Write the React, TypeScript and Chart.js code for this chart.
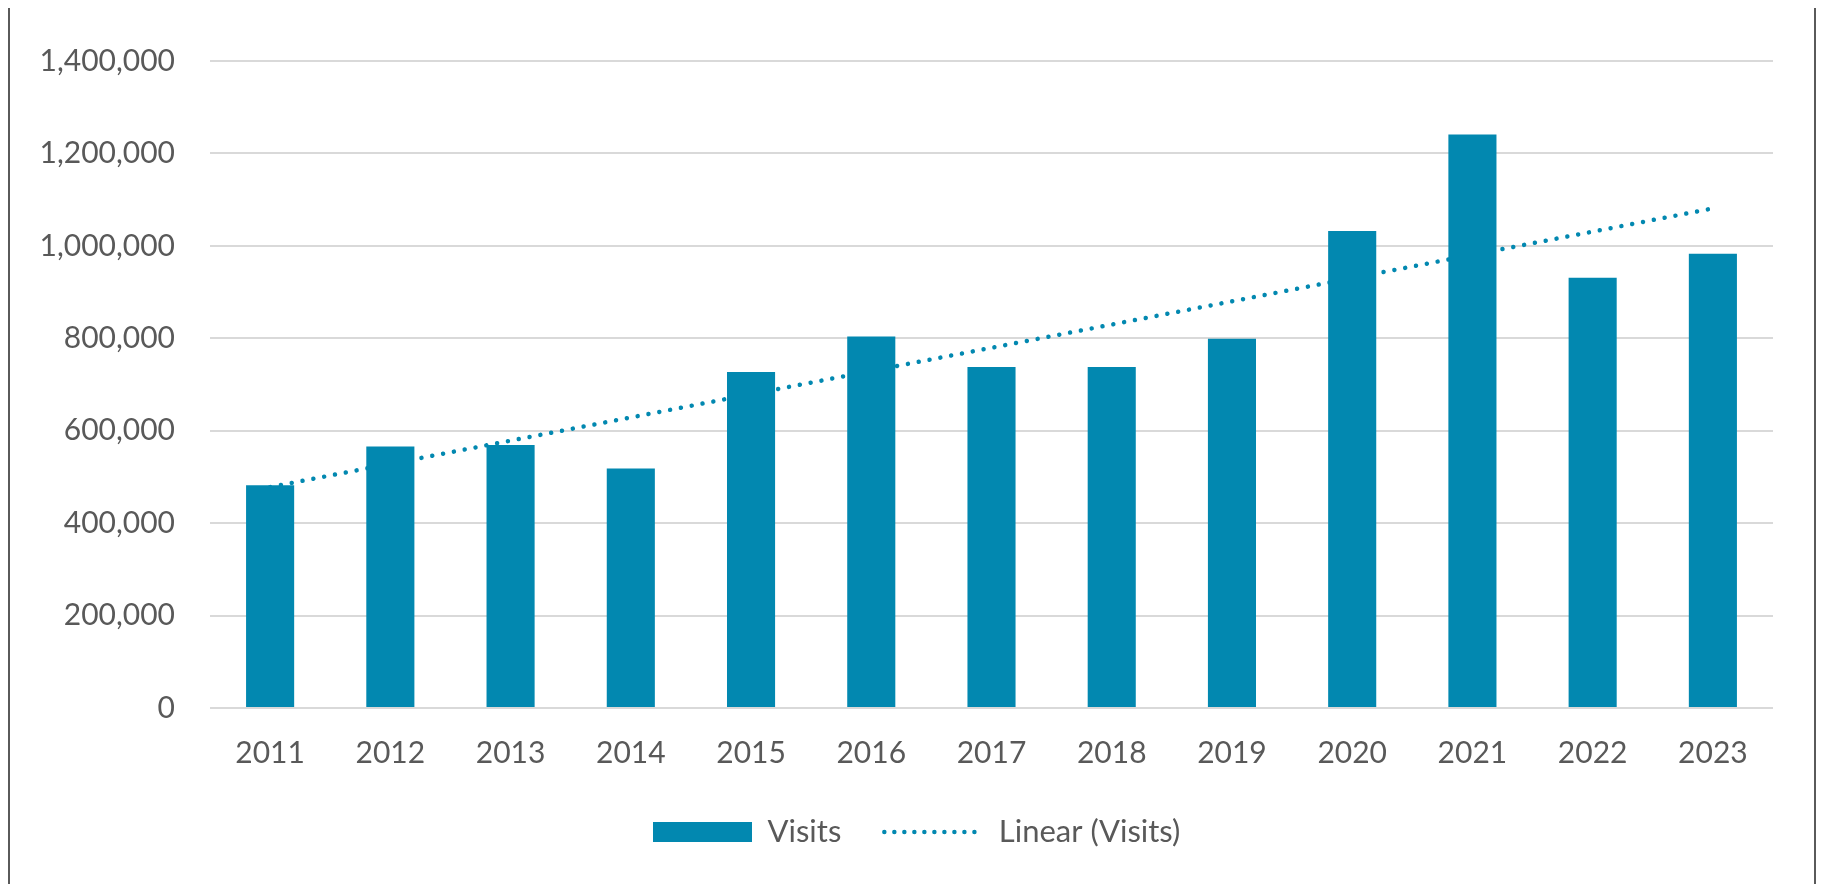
import React, { useEffect, useRef } from "react";
import { Chart, registerables } from "chart.js";

Chart.register(...registerables);

const years = ["2011", "2012", "2013", "2014", "2015", "2016", "2017", "2018", "2019", "2020", "2021", "2022", "2023"];
const visits = [482000, 566000, 569000, 518000, 727000, 804000, 738000, 738000, 799000, 1032000, 1241000, 931000, 983000];
const trendStart = 478000;
const trendEnd = 1081000;
const yTicks = [0, 200000, 400000, 600000, 800000, 1000000, 1200000, 1400000];
const seriesName = "Visits";
const trendName = "Linear (Visits)";

const BAR_COLOR = "#0288B0";
const TEXT_COLOR = "#595959";
const GRID_COLOR = "#d9d9d9";
const FONT = "Lato";
const LEGEND_START_X = 643; // canvas x where the legend begins

export default function App() {
  const ref = useRef<HTMLCanvasElement | null>(null);

  useEffect(() => {
    if (!ref.current) return;
    const last = years.length - 1;
    const trendData = years.map((_, i) => (i === 0 ? trendStart : i === last ? trendEnd : null));

    const legendShift = {
      id: "legendShift",
      afterLayout(chart: any) {
        const l = chart.legend;
        if (l && l.lineWidths) {
          const pad = l.options.labels.padding;
          const startX = (l.left + pad + l.right - l.lineWidths[0]) / 2;
          const shift = LEGEND_START_X - startX;
          l.left += shift;
          l.right += shift;
        }
      },
    };

    const chart = new Chart(ref.current, {
      type: "bar",
      data: {
        labels: years,
        datasets: [
          {
            type: "bar",
            label: seriesName,
            data: visits,
            backgroundColor: BAR_COLOR,
            borderWidth: 0,
            categoryPercentage: 1,
            barPercentage: 0.4,
            order: 0,
          } as any,
          {
            type: "line",
            label: trendName,
            data: trendData,
            borderColor: BAR_COLOR,
            borderWidth: 4.5,
            borderDash: [0.01, 11],
            borderCapStyle: "round",
            pointRadius: 0,
            spanGaps: true,
            fill: false,
            order: 1,
          } as any,
        ],
      },
      options: {
        responsive: false,
        animation: false,
        layout: { padding: { top: 49, right: 41, bottom: 26.5, left: 0 } },
        plugins: {
          tooltip: { enabled: false },
          legend: {
            position: "bottom",
            labels: {
              color: TEXT_COLOR,
              font: { family: FONT, size: 31 },
              usePointStyle: true,
              pointStyleWidth: 99,
              boxHeight: 20,
              padding: 43,
              generateLabels: () => [
                {
                  text: seriesName,
                  fillStyle: BAR_COLOR,
                  strokeStyle: BAR_COLOR,
                  lineWidth: 0,
                  pointStyle: "rect",
                  hidden: false,
                  datasetIndex: 0,
                  fontColor: TEXT_COLOR,
                } as any,
                {
                  text: trendName,
                  fillStyle: "rgba(0,0,0,0)",
                  strokeStyle: BAR_COLOR,
                  lineWidth: 4.5,
                  lineDash: [0.01, 10],
                  lineCap: "round",
                  pointStyle: "line",
                  hidden: false,
                  datasetIndex: 1,
                  fontColor: TEXT_COLOR,
                } as any,
              ],
            },
          },
        },
        scales: {
          x: {
            grid: { display: false, drawTicks: false },
            border: { display: false },
            ticks: { color: TEXT_COLOR, font: { family: FONT, size: 30 }, padding: 27, maxRotation: 0 },
            afterFit: (s: any) => {
              s.height = 65.5;
            },
          },
          y: {
            min: 0,
            max: 1400000,
            grid: { color: GRID_COLOR, lineWidth: 2, drawTicks: false },
            border: { display: false },
            afterBuildTicks: (s: any) => {
              s.ticks = yTicks.map((v) => ({ value: v }));
            },
            ticks: {
              color: TEXT_COLOR,
              font: { family: FONT, size: 30 },
              padding: 35,
              callback: (v: any) => Number(v).toLocaleString("en-US"),
            },
            afterFit: (s: any) => {
              s.width = 200;
            },
          },
        },
      },
      plugins: [legendShift],
    });
    return () => chart.destroy();
  }, []);

  return (
    <div
      style={{
        position: "fixed",
        top: 8,
        left: 8,
        width: 1808,
        height: 876,
        boxSizing: "border-box",
        borderLeft: "2px solid #5a5a5a",
        borderRight: "2px solid #5a5a5a",
        background: "#fff",
      }}
    >
      <canvas ref={ref} width={1804} height={876} style={{ display: "block" }} />
    </div>
  );
}
